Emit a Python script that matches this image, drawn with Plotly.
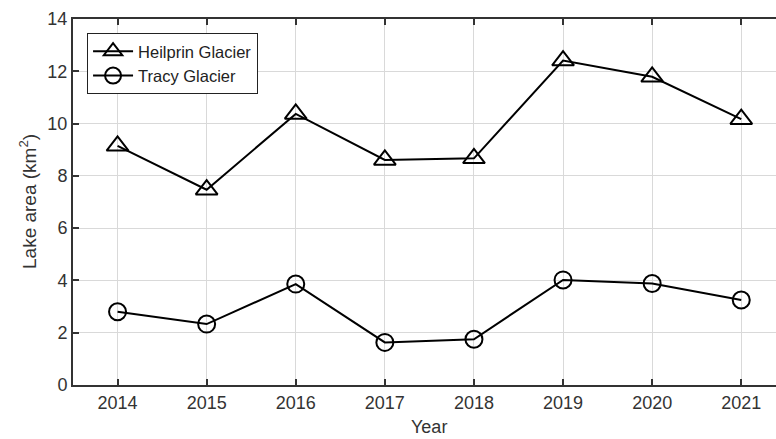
import plotly.graph_objects as go

years = [2014, 2015, 2016, 2017, 2018, 2019, 2020, 2021]
heilprin = [9.15, 7.47, 10.37, 8.61, 8.67, 12.41, 11.79, 10.17]
tracy = [2.80, 2.33, 3.86, 1.63, 1.75, 4.02, 3.88, 3.25]
y_ticks = [0, 2, 4, 6, 8, 10, 12, 14]

fig = go.Figure()
fig.add_trace(go.Scatter(
    x=years, y=heilprin, mode="lines+markers", name="Heilprin Glacier",
    line=dict(color="black", width=2),
    marker=dict(symbol="triangle-up-open", size=19, color="black", line=dict(width=2, color="black")),
))
fig.add_trace(go.Scatter(
    x=years, y=tracy, mode="lines+markers", name="Tracy Glacier",
    line=dict(color="black", width=2),
    marker=dict(symbol="circle-open", size=17, color="black", line=dict(width=2, color="black")),
))

font_col = "#333333"
fig.update_layout(
    width=776, height=439,
    margin=dict(l=73, r=0, t=19, b=54),
    paper_bgcolor="white", plot_bgcolor="white",
    font=dict(family="Liberation Sans, Arial, sans-serif", size=18, color=font_col),
    showlegend=True,
    legend=dict(
        x=0.02, y=0.962, xanchor="left", yanchor="top",
        bgcolor="white", bordercolor="#222222", borderwidth=1,
        font=dict(size=16.5, color="#222222"),
        tracegroupgap=0, itemwidth=40,
    ),
    xaxis=dict(
        range=[2013.5, 2021.39], tickvals=years, ticktext=[str(y) for y in years],
        showgrid=True, gridcolor="#d9d9d9", gridwidth=1,
        showline=True, linecolor="#333333", linewidth=2, mirror="ticks",
        ticks="inside", ticklen=6, tickwidth=2, tickcolor="#333333",
        tickfont=dict(size=18, color=font_col), zeroline=False,
    ),
    yaxis=dict(
        range=[0, 14], tickvals=y_ticks,
        showgrid=True, gridcolor="#d9d9d9", gridwidth=1,
        showline=True, linecolor="#333333", linewidth=2, mirror=False,
        ticks="inside", ticklen=6, tickwidth=2, tickcolor="#333333",
        tickfont=dict(size=18, color=font_col), zeroline=False,
    ),
)
fig.add_annotation(
    x=2017.5, xref="x", y=-0.1475, yref="paper", yanchor="bottom", showarrow=False,
    text="Year", font=dict(size=18, color=font_col),
)
fig.add_annotation(
    x=-0.064, xref="paper", xanchor="center", y=0.5, yref="paper", yanchor="middle",
    textangle=-90, showarrow=False,
    text="Lake area (km<sup>2</sup>)", font=dict(size=19, color=font_col),
)
fig.write_html(
    "out.html",
    config={"displayModeBar": False},
    post_script="document.body.style.margin='0';document.body.style.overflow='hidden';",
)
